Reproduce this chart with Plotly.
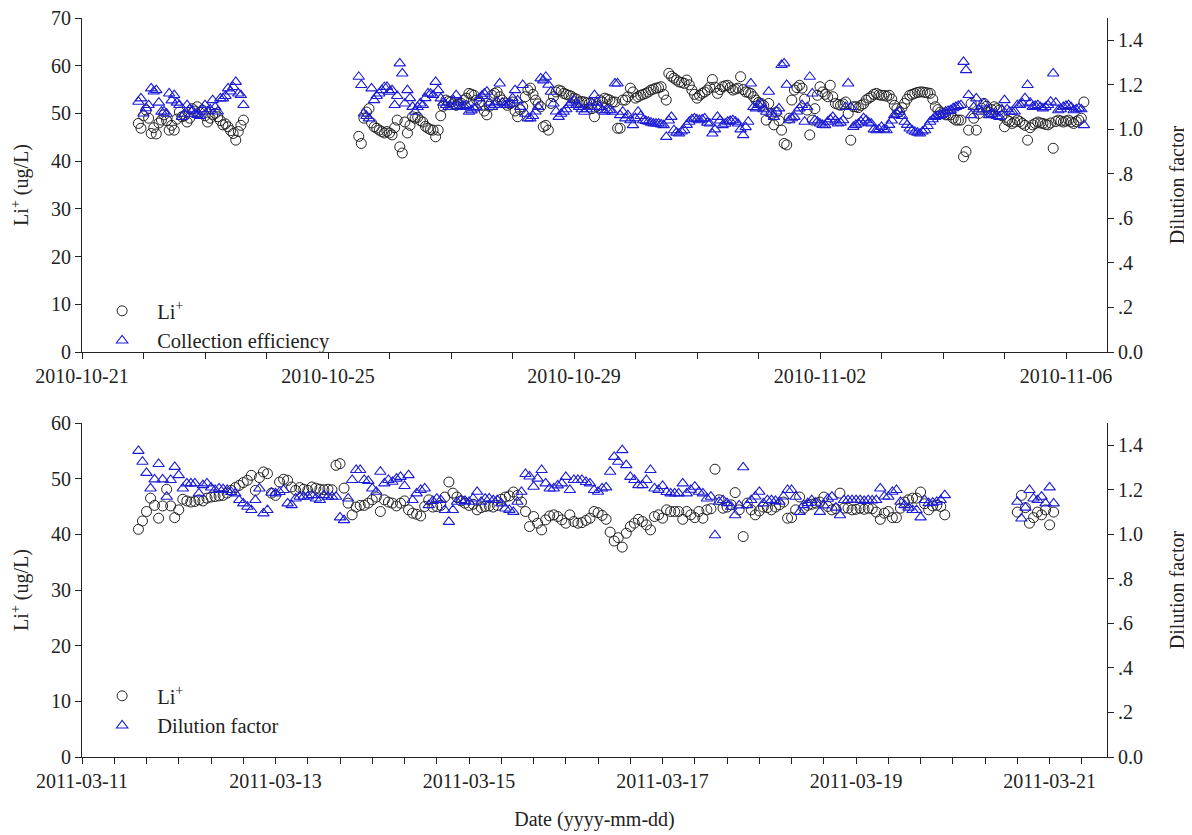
import pandas as pd
import plotly.graph_objects as go

# ---------------- DATA (hourly samples) ----------------
# Top panel, 2010: Li+ (ug/L) and collection efficiency / dilution factor
top1_start = "2010-10-21 22:00"
top1_li = [47.9, 46.9, 49.5, 50.7, 49.0, 45.8, 47.0, 45.7, 48.0, 48.6, 49.7, 48.5,
           46.5, 47.5, 46.5, 48.8, 50.3, 49.3, 49.5, 48.2, 49.0, 51.0, 50.5, 51.4,
           50.2, 50.7, 49.5, 48.2, 49.0, 49.7, 50.0, 49.3, 48.5, 47.6, 47.8, 47.2,
           46.4, 45.8, 44.4, 46.2, 47.5, 48.6]
top1_ce = [1.124, 1.139, 1.071, 1.095, 1.109, 1.184, 1.17, 1.176, 1.12, 1.079, 1.08, 1.07,
           1.161, 1.13, 1.154, 1.12, 1.109, 1.056, 1.07, 1.109, 1.09, 1.085, 1.07, 1.065,
           1.06, 1.09, 1.109, 1.08, 1.09, 1.131, 1.1, 1.08, 1.139, 1.139, 1.15, 1.184,
           1.17, 1.19, 1.213, 1.161, 1.154, 1.109]

top2_start = "2010-10-25 12:00"
top2_li = [45.2, 43.7, 49.0, 50.3, 51.0, 48.0, 47.2, 46.9, 46.5, 46.2, 45.9, 46.2,
           45.9, 45.5, 47.0, 48.6, 43.0, 41.7, 48.2, 45.9, 47.5, 49.3, 49.0, 49.2,
           48.5, 48.2, 47.3, 46.9, 46.6, 46.5, 45.1, 46.5, 49.5, 51.5, 52.8, 52.5,
           52.4, 52.0, 51.7, 52.0, 52.1, 52.8, 53.2, 54.2, 54.0, 53.8, 52.8, 52.3,
           51.7, 50.5, 49.7, 51.5, 53.8, 54.2, 54.5, 53.5, 52.8, 52.2, 51.7, 52.0,
           52.4, 50.5, 49.3, 50.8, 51.4, 53.5, 54.9, 55.3, 54.0, 52.8, 52.0, 51.4,
           47.2, 47.5, 46.5, 52.1, 53.5, 54.5, 54.9, 54.7, 54.2, 54.0, 53.8, 53.6,
           53.2, 53.0, 52.4, 52.5, 52.4, 52.2, 52.1, 51.0, 49.3, 51.5, 52.8, 52.4,
           53.2, 53.0, 52.8, 52.4, 52.4, 46.9, 46.9, 52.8, 52.8, 53.5, 55.3, 54.5,
           53.2, 53.5, 53.8, 54.0, 54.2, 54.5, 54.9, 55.1, 55.3, 55.4, 55.6, 54.0,
           52.8, 58.4, 57.8, 57.4, 57.0, 56.6, 56.5, 56.3, 57.0, 56.0, 54.9, 54.0,
           53.2, 53.8, 54.2, 54.5, 54.9, 55.5, 57.1, 55.5, 54.2, 55.0, 55.6, 55.8,
           55.9, 55.4, 54.9, 55.1, 55.3, 57.7, 55.0, 54.5, 54.4, 54.2, 53.5, 52.8,
           52.3, 52.1, 51.7, 48.6, 52.1, 50.0, 47.6, 50.3, 48.5, 46.5, 43.7, 43.4,
           49.0, 52.8, 54.9, 55.4, 55.9, 55.3, 53.0, 50.7, 45.5, 48.6, 51.0, 53.8,
           55.6, 54.5, 54.0, 53.5, 55.9, 53.5, 52.1, 51.9, 51.7, 52.0, 52.4, 50.0,
           44.4, 51.4, 51.4, 51.2, 51.7, 52.0, 52.8, 53.2, 53.5, 54.0, 54.2, 53.9,
           53.8, 53.8, 53.6, 53.8, 53.0, 51.7, 51.0, 50.3, 51.2, 52.1, 53.0, 53.8,
           54.0, 54.2, 54.4, 54.5, 54.5, 54.4, 54.3, 54.2, 53.0, 51.4, 50.8, 50.3,
           50.0, 49.7, 49.7, 49.7, 49.0, 48.6, 48.6, 48.6, 40.9, 42.0, 46.5, 52.1,
           49.0, 46.5, 50.0, 51.1, 52.1, 51.5, 50.3, 50.8, 51.4, 51.0, 50.7, 49.5,
           47.2, 48.6, 48.3, 47.9, 48.2, 48.6, 48.3, 47.9, 47.5, 44.4, 47.0, 47.6,
           47.9, 48.2, 48.0, 47.9, 47.7, 47.6, 48.0, 42.7, 48.3, 48.6, 48.4, 48.2,
           48.4, 48.6, 48.2, 47.9, 48.3, 48.6, 49.0, 52.4]
top2_ce = [1.236, 1.199, 1.071, 1.06, 1.049, 1.184, 1.131, 1.15, 1.161, 1.176, 1.19, 1.191,
           1.169, 1.176, 1.109, 1.15, 1.296, 1.251, 1.116, 1.176, 1.14, 1.101, 1.079, 1.1,
           1.116, 1.109, 1.14, 1.161, 1.16, 1.154, 1.213, 1.176, 1.139, 1.12, 1.109, 1.10,
           1.101, 1.13, 1.154, 1.12, 1.101, 1.105, 1.109, 1.079, 1.085, 1.094, 1.10, 1.139,
           1.15, 1.16, 1.169, 1.12, 1.101, 1.11, 1.124, 1.206, 1.12, 1.109, 1.11, 1.116,
           1.14, 1.176, 1.13, 1.101, 1.199, 1.07, 1.049, 1.049, 1.06, 1.08, 1.101, 1.229,
           1.22, 1.236, 1.2, 1.169, 1.116, 1.08, 1.056, 1.07, 1.079, 1.09, 1.109, 1.12,
           1.131, 1.11, 1.101, 1.09, 1.079, 1.09, 1.101, 1.12, 1.154, 1.12, 1.101, 1.086,
           1.079, 1.086, 1.086, 1.079, 1.206, 1.206, 1.064, 1.079, 1.049, 1.064, 1.041, 1.019,
           1.05, 1.079, 1.06, 1.041, 1.038, 1.034, 1.03, 1.026, 1.026, 1.026, 1.022, 1.019,
           0.966, 1.04, 1.056, 0.996, 0.985, 0.981, 0.99, 0.996, 1.02, 1.034, 1.045, 1.049,
           1.045, 1.041, 1.045, 1.049, 1.03, 1.026, 0.981, 1.0, 1.056, 1.04, 1.019, 1.025,
           1.034, 1.038, 1.041, 1.034, 1.026, 1.0, 0.974, 1.01, 1.034, 1.206, 1.1, 1.094,
           1.11, 1.116, 1.09, 1.079, 1.169, 1.07, 1.056, 1.08, 1.094, 1.289, 1.296, 1.2,
           1.041, 1.05, 1.056, 1.08, 1.094, 1.109, 1.034, 1.1, 1.236, 1.161, 1.041, 1.035,
           1.026, 1.02, 1.019, 1.034, 1.045, 1.056, 1.04, 1.026, 1.03, 1.041, 1.1, 1.206,
           1.1, 1.011, 1.02, 1.026, 1.034, 1.05, 1.041, 1.03, 1.026, 1.0, 0.996, 1.0,
           1.011, 1.0, 0.996, 1.02, 1.04, 1.064, 1.07, 1.079, 1.06, 1.034, 1.02, 1.004,
           0.995, 0.989, 0.985, 0.981, 0.99, 0.996, 1.015, 1.034, 1.045, 1.056, 1.06, 1.064,
           1.07, 1.079, 1.083, 1.086, 1.095, 1.101, 1.105, 1.109, 1.303, 1.266, 1.154, 1.064,
           1.10, 1.139, 1.09, 1.079, 1.116, 1.09, 1.064, 1.068, 1.071, 1.06, 1.056, 1.09,
           1.131, 1.09, 1.079, 1.079, 1.08, 1.109, 1.11, 1.116, 1.14, 1.199, 1.12, 1.101,
           1.105, 1.109, 1.1, 1.094, 1.1, 1.109, 1.124, 1.251, 1.12, 1.086, 1.09, 1.101,
           1.105, 1.109, 1.1, 1.086, 1.09, 1.094, 1.09, 1.019]

# Bottom panel, 2011: Li+ (ug/L) and dilution factor
bot1_start = "2011-03-11 14:00"
bot1_li = [40.9, 42.4, 44.1, 46.5, 45.2, 42.9, 45.1, 48.1, 45.1, 43.0, 44.4, 46.3,
           46.0, 45.8, 45.9, 46.2, 46.0, 46.5, 46.7, 46.8, 46.9, 47.0, 47.4, 47.9,
           48.4, 48.8, 49.3, 49.7, 50.6, 47.9, 50.2, 51.2, 50.9, 47.4, 47.0, 49.4,
           49.9, 49.7, 48.5, 47.9, 48.4, 48.1, 47.9, 48.5, 48.3, 48.1, 48.0, 48.1,
           48.0, 52.4, 52.7, 48.3, 45.6, 43.5, 44.9, 45.2, 45.2, 45.6, 46.2, 46.7,
           44.1, 46.2, 45.8, 45.6, 45.1, 45.6, 46.0, 44.4, 43.8, 43.6, 43.3, 45.0,
           46.2, 44.9, 45.0, 45.2, 46.7, 49.4, 47.4, 46.7, 46.0, 45.6, 45.2, 45.4,
           44.4, 44.8, 45.0, 45.1, 44.9, 45.2, 46.3, 46.7, 46.9, 47.6, 47.0, 45.8,
           44.1, 41.4, 43.2, 42.0, 40.8, 42.6, 43.3, 43.5, 43.2, 42.6, 42.0, 43.5,
           42.3, 42.0, 42.1, 42.5, 42.9, 44.1, 43.9, 43.4, 42.7, 40.4, 38.8, 39.4,
           37.7, 40.2, 41.4, 42.0, 42.7, 42.3, 41.7, 40.8, 43.2, 43.5, 42.9, 44.4,
           44.1, 44.1, 44.1, 42.7, 44.1, 43.5, 43.0, 44.1, 42.9, 44.4, 44.6, 51.7,
           46.2, 44.7, 44.9, 45.3, 47.5, 44.4, 39.6, 45.6, 44.4, 43.5, 44.2, 44.9,
           44.8, 44.4, 44.9, 45.3, 45.8, 42.9, 43.0, 44.4, 46.7, 44.7, 45.2, 45.4,
           45.6, 45.8, 46.7, 45.0, 44.4, 44.6, 47.4, 44.7, 44.7, 44.4, 44.5, 44.7,
           44.5, 44.7, 44.6, 44.0, 42.7, 43.8, 44.1, 43.0, 43.0, 44.7, 45.8, 46.2,
           46.5, 46.5, 47.6, 45.5, 44.4, 45.1, 45.2, 45.0, 43.5]
bot1_df = [1.375, 1.326, 1.276, 1.206, 1.247, 1.316, 1.247, 1.169, 1.244, 1.303, 1.266, 1.206,
           1.229, 1.229, 1.229, 1.184, 1.221, 1.229, 1.21, 1.199, 1.206, 1.203, 1.199, 1.19,
           1.184, 1.154, 1.139, 1.124, 1.109, 1.154, 1.206, 1.094, 1.109, 1.187, 1.184, 1.19,
           1.199, 1.139, 1.131, 1.161, 1.169, 1.169, 1.17, 1.176, 1.161, 1.154, 1.176, 1.169,
           1.169, 1.169, 1.076, 1.064, 1.161, 1.244, 1.289, 1.289, 1.244, 1.24, 1.206, 1.191,
           1.281, 1.229, 1.244, 1.236, 1.25, 1.258, 1.217, 1.266, 1.154, 1.184, 1.199, 1.206,
           1.131, 1.15, 1.16, 1.154, 1.109, 1.056, 1.109, 1.146, 1.154, 1.15, 1.146, 1.161,
           1.191, 1.146, 1.16, 1.161, 1.154, 1.154, 1.139, 1.116, 1.11, 1.101, 1.146, 1.191,
           1.271, 1.26, 1.214, 1.25, 1.289, 1.229, 1.206, 1.206, 1.22, 1.229, 1.258, 1.199,
           1.244, 1.244, 1.244, 1.235, 1.229, 1.199, 1.191, 1.206, 1.211, 1.281, 1.348, 1.326,
           1.378, 1.311, 1.258, 1.244, 1.221, 1.221, 1.244, 1.289, 1.206, 1.199, 1.217, 1.19,
           1.184, 1.184, 1.184, 1.229, 1.184, 1.2, 1.214, 1.191, 1.184, 1.161, 1.169, 0.996,
           1.146, 1.154, 1.14, 1.124, 1.086, 1.13, 1.301, 1.131, 1.154, 1.17, 1.191, 1.139,
           1.154, 1.154, 1.15, 1.146, 1.17, 1.199, 1.199, 1.169, 1.101, 1.131, 1.14, 1.154,
           1.142, 1.101, 1.13, 1.16, 1.169, 1.12, 1.086, 1.154, 1.154, 1.154, 1.154, 1.154,
           1.15, 1.154, 1.152, 1.154, 1.206, 1.17, 1.169, 1.191, 1.199, 1.146, 1.131, 1.12,
           1.109, 1.109, 1.076, 1.154, 1.14, 1.142, 1.146, 1.154, 1.176]

bot2_start = "2011-03-20 16:00"
bot2_li = [44.0, 47.0, 44.8, 42.0, 43.0, 44.0, 43.5, 44.4, 41.7, 44.0]
bot2_df = [1.146, 1.071, 1.12, 1.199, 1.161, 1.154, 1.169, 1.139, 1.211, 1.139]

top_x_ticks = ["2010-10-21", "2010-10-25", "2010-10-29", "2010-11-02", "2010-11-06"]
bot_x_ticks = ["2011-03-11", "2011-03-13", "2011-03-15", "2011-03-17", "2011-03-19", "2011-03-21"]
right_tickvals = [0.0, 0.2, 0.4, 0.6, 0.8, 1.0, 1.2, 1.4]
right_ticktext = ["0.0", ".2", ".4", ".6", ".8", "1.0", "1.2", "1.4"]


def hourly(start, n):
    return list(pd.date_range(start=start, periods=n, freq="h"))


def joined(parts):
    xs, ys = [], []
    for start, vals in parts:
        t = hourly(start, len(vals))
        xs += t + [None]
        ys += list(vals) + [None]
    return xs[:-1], ys[:-1]


FONT = "Liberation Serif, Times New Roman, serif"
BLUE = "#1c1cd6"
BLACK = "#222222"

fig = go.Figure()

tx_li, ty_li = joined([(top1_start, top1_li), (top2_start, top2_li)])
tx_ce, ty_ce = joined([(top1_start, top1_ce), (top2_start, top2_ce)])
bx_li, by_li = joined([(bot1_start, bot1_li), (bot2_start, bot2_li)])
bx_df, by_df = joined([(bot1_start, bot1_df), (bot2_start, bot2_df)])

circle = dict(symbol="circle-open", size=10, color=BLACK, line=dict(width=1, color=BLACK))
tri = dict(symbol="triangle-up-open", size=10, color=BLUE, line=dict(width=1.1, color=BLUE))

fig.add_trace(go.Scatter(x=tx_li, y=ty_li, mode="markers", marker=circle,
                         name="Li<sup>+</sup>", xaxis="x", yaxis="y", legend="legend"))
fig.add_trace(go.Scatter(x=tx_ce, y=ty_ce, mode="markers", marker=tri,
                         name="Collection efficiency", xaxis="x", yaxis="y2", legend="legend"))
fig.add_trace(go.Scatter(x=bx_li, y=by_li, mode="markers", marker=circle,
                         name="Li<sup>+</sup>", xaxis="x2", yaxis="y3", legend="legend2"))
fig.add_trace(go.Scatter(x=bx_df, y=by_df, mode="markers", marker=tri,
                         name="Dilution factor", xaxis="x2", yaxis="y4", legend="legend2"))

# page body adds an 8 px offset, so the figure is laid out 8 px up/left
OFF = 8
W, H = 1192 - OFF, 835 - OFF
ML, MT = 82 - OFF, 18 - OFF
MR = W - (1107 - OFF)
MB = H - (757 - OFF)
PH = H - MT - MB            # plot-area height in px
top_dom = [1 - 334 / PH, 1.0]
bot_dom = [0.0, 334 / PH]

axis_common = dict(showline=True, linecolor=BLACK, linewidth=1, ticks="outside",
                   ticklen=6, tickcolor=BLACK, showgrid=False, zeroline=False,
                   automargin=False, ticklabeloverflow="allow",
                   tickfont=dict(family=FONT, size=20, color="#222"))
TFONT = dict(family=FONT, size=20, color="#222")

fig.update_layout(
    width=W, height=H,
    margin=dict(l=ML, r=MR, t=MT, b=MB),
    paper_bgcolor="white", plot_bgcolor="white",
    font=dict(family=FONT, size=20, color="#222"),
    xaxis=dict(domain=[0, 1], anchor="y", type="date",
               range=["2010-10-21 00:00", "2010-11-06 16:00"],
               tickvals=top_x_ticks, ticktext=top_x_ticks,
               minor=dict(dtick=86400000, tick0="2010-10-21", ticks="outside",
                          ticklen=6, tickcolor=BLACK, showgrid=False),
               **axis_common),
    yaxis=dict(domain=top_dom, anchor="x", range=[0, 70], dtick=10,
               title=dict(text="Li<sup>+</sup> (ug/L)", font=TFONT, standoff=20),
               **axis_common),
    yaxis2=dict(domain=top_dom, anchor="x", overlaying="y", side="right", range=[0, 1.5],
                tickvals=right_tickvals, ticktext=right_ticktext,
                title=dict(text="Dilution factor", font=TFONT, standoff=27),
                **axis_common),
    xaxis2=dict(domain=[0, 1], anchor="y3", type="date",
                range=["2011-03-11 00:00", "2011-03-21 14:14"],
                tickvals=bot_x_ticks, ticktext=bot_x_ticks,
                minor=dict(dtick=8 * 3600000, tick0="2011-03-11", ticks="outside",
                           ticklen=6, tickcolor=BLACK, showgrid=False),
                title=dict(text="Date (yyyy-mm-dd)", font=TFONT, standoff=20),
                **axis_common),
    yaxis3=dict(domain=bot_dom, anchor="x2", range=[0, 60], dtick=10,
                title=dict(text="Li<sup>+</sup> (ug/L)", font=TFONT, standoff=20),
                **axis_common),
    yaxis4=dict(domain=bot_dom, anchor="x2", overlaying="y3", side="right", range=[0, 1.5],
                tickvals=right_tickvals, ticktext=right_ticktext,
                title=dict(text="Dilution factor", font=TFONT, standoff=27),
                **axis_common),
    legend=dict(x=0.005, y=(757 - 291) / PH, xanchor="left", yanchor="top",
                bgcolor="rgba(0,0,0,0)", itemwidth=60,
                font=dict(family=FONT, size=20.5, color="#222")),
    legend2=dict(x=0.005, y=(757 - 676) / PH, xanchor="left", yanchor="top",
                 bgcolor="rgba(0,0,0,0)", itemwidth=60,
                 font=dict(family=FONT, size=20.5, color="#222")),
)

fig.write_html("out.html")
